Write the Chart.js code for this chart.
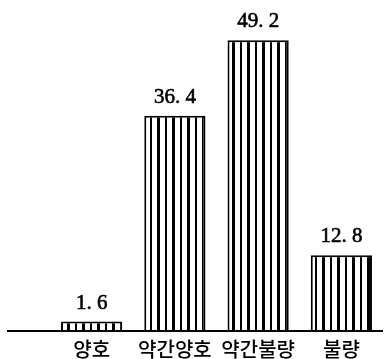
<!DOCTYPE html>
<html><head><meta charset="utf-8">
<script src="https://cdn.jsdelivr.net/npm/chart.js@4"></script>
<style>html,body{margin:0;padding:0;background:#fff}#wrap{width:390px;height:359px}</style>
</head><body><div id="wrap"><canvas id="c"></canvas></div>
<script>
const categories = ["양호", "약간양호", "약간불량", "불량"];
const values = [1.6, 36.4, 49.2, 12.8];
const valueLabels = ["1. 6", "36. 4", "49. 2", "12. 8"];

function stripes() {
  const p = document.createElement('canvas');
  p.width = 15; p.height = 4;
  const g = p.getContext('2d');
  g.fillStyle = '#fff'; g.fillRect(0, 0, 15, 4);
  g.fillStyle = '#000';
  g.fillRect(0, 0, 2, 4);
  g.fillRect(7, 0, 3, 4);
  return g.createPattern(p, 'repeat');
}

const extras = {
  id: 'extras',
  afterDatasetsDraw(chart) {
    const ctx = chart.ctx;
    const y0 = chart.scales.y.getPixelForValue(0);
    ctx.save();
    ctx.strokeStyle = '#000'; ctx.lineWidth = 2;
    ctx.beginPath(); ctx.moveTo(7, y0); ctx.lineTo(chart.chartArea.right, y0); ctx.stroke();
    ctx.fillStyle = '#000';
    ctx.font = '21px "Liberation Serif", serif';
    ctx.textAlign = 'center'; ctx.textBaseline = 'bottom';
    ctx.lineWidth = 0.6;
    chart.getDatasetMeta(0).data.forEach((bar, i) => {
      ctx.fillText(valueLabels[i], bar.x, bar.y - 8);
      ctx.strokeText(valueLabels[i], bar.x, bar.y - 8);
    });
    ctx.restore();
  }
};

new Chart(document.getElementById('c'), {
  type: 'bar',
  data: {
    labels: categories,
    datasets: [{
      data: values,
      backgroundColor: stripes(),
      borderColor: '#000',
      borderWidth: 2,
      borderSkipped: 'bottom',
      barPercentage: 0.735,
      categoryPercentage: 1
    }]
  },
  options: {
    responsive: true, maintainAspectRatio: false, animation: false,
    layout: { padding: { left: 50, right: 7, top: 0, bottom: 0 } },
    plugins: { legend: { display: false }, tooltip: { enabled: false } },
    scales: {
      x: {
        grid: { display: false, drawTicks: false },
        border: { display: false },
        ticks: { color: '#000', padding: 6, font: { family: '"Noto Sans CJK KR"', size: 20, weight: '500' } },
        afterFit(s) { s.height = 28; }
      },
      y: { display: false, min: 0, max: 56 }
    }
  },
  plugins: [extras]
});
</script></body></html>
